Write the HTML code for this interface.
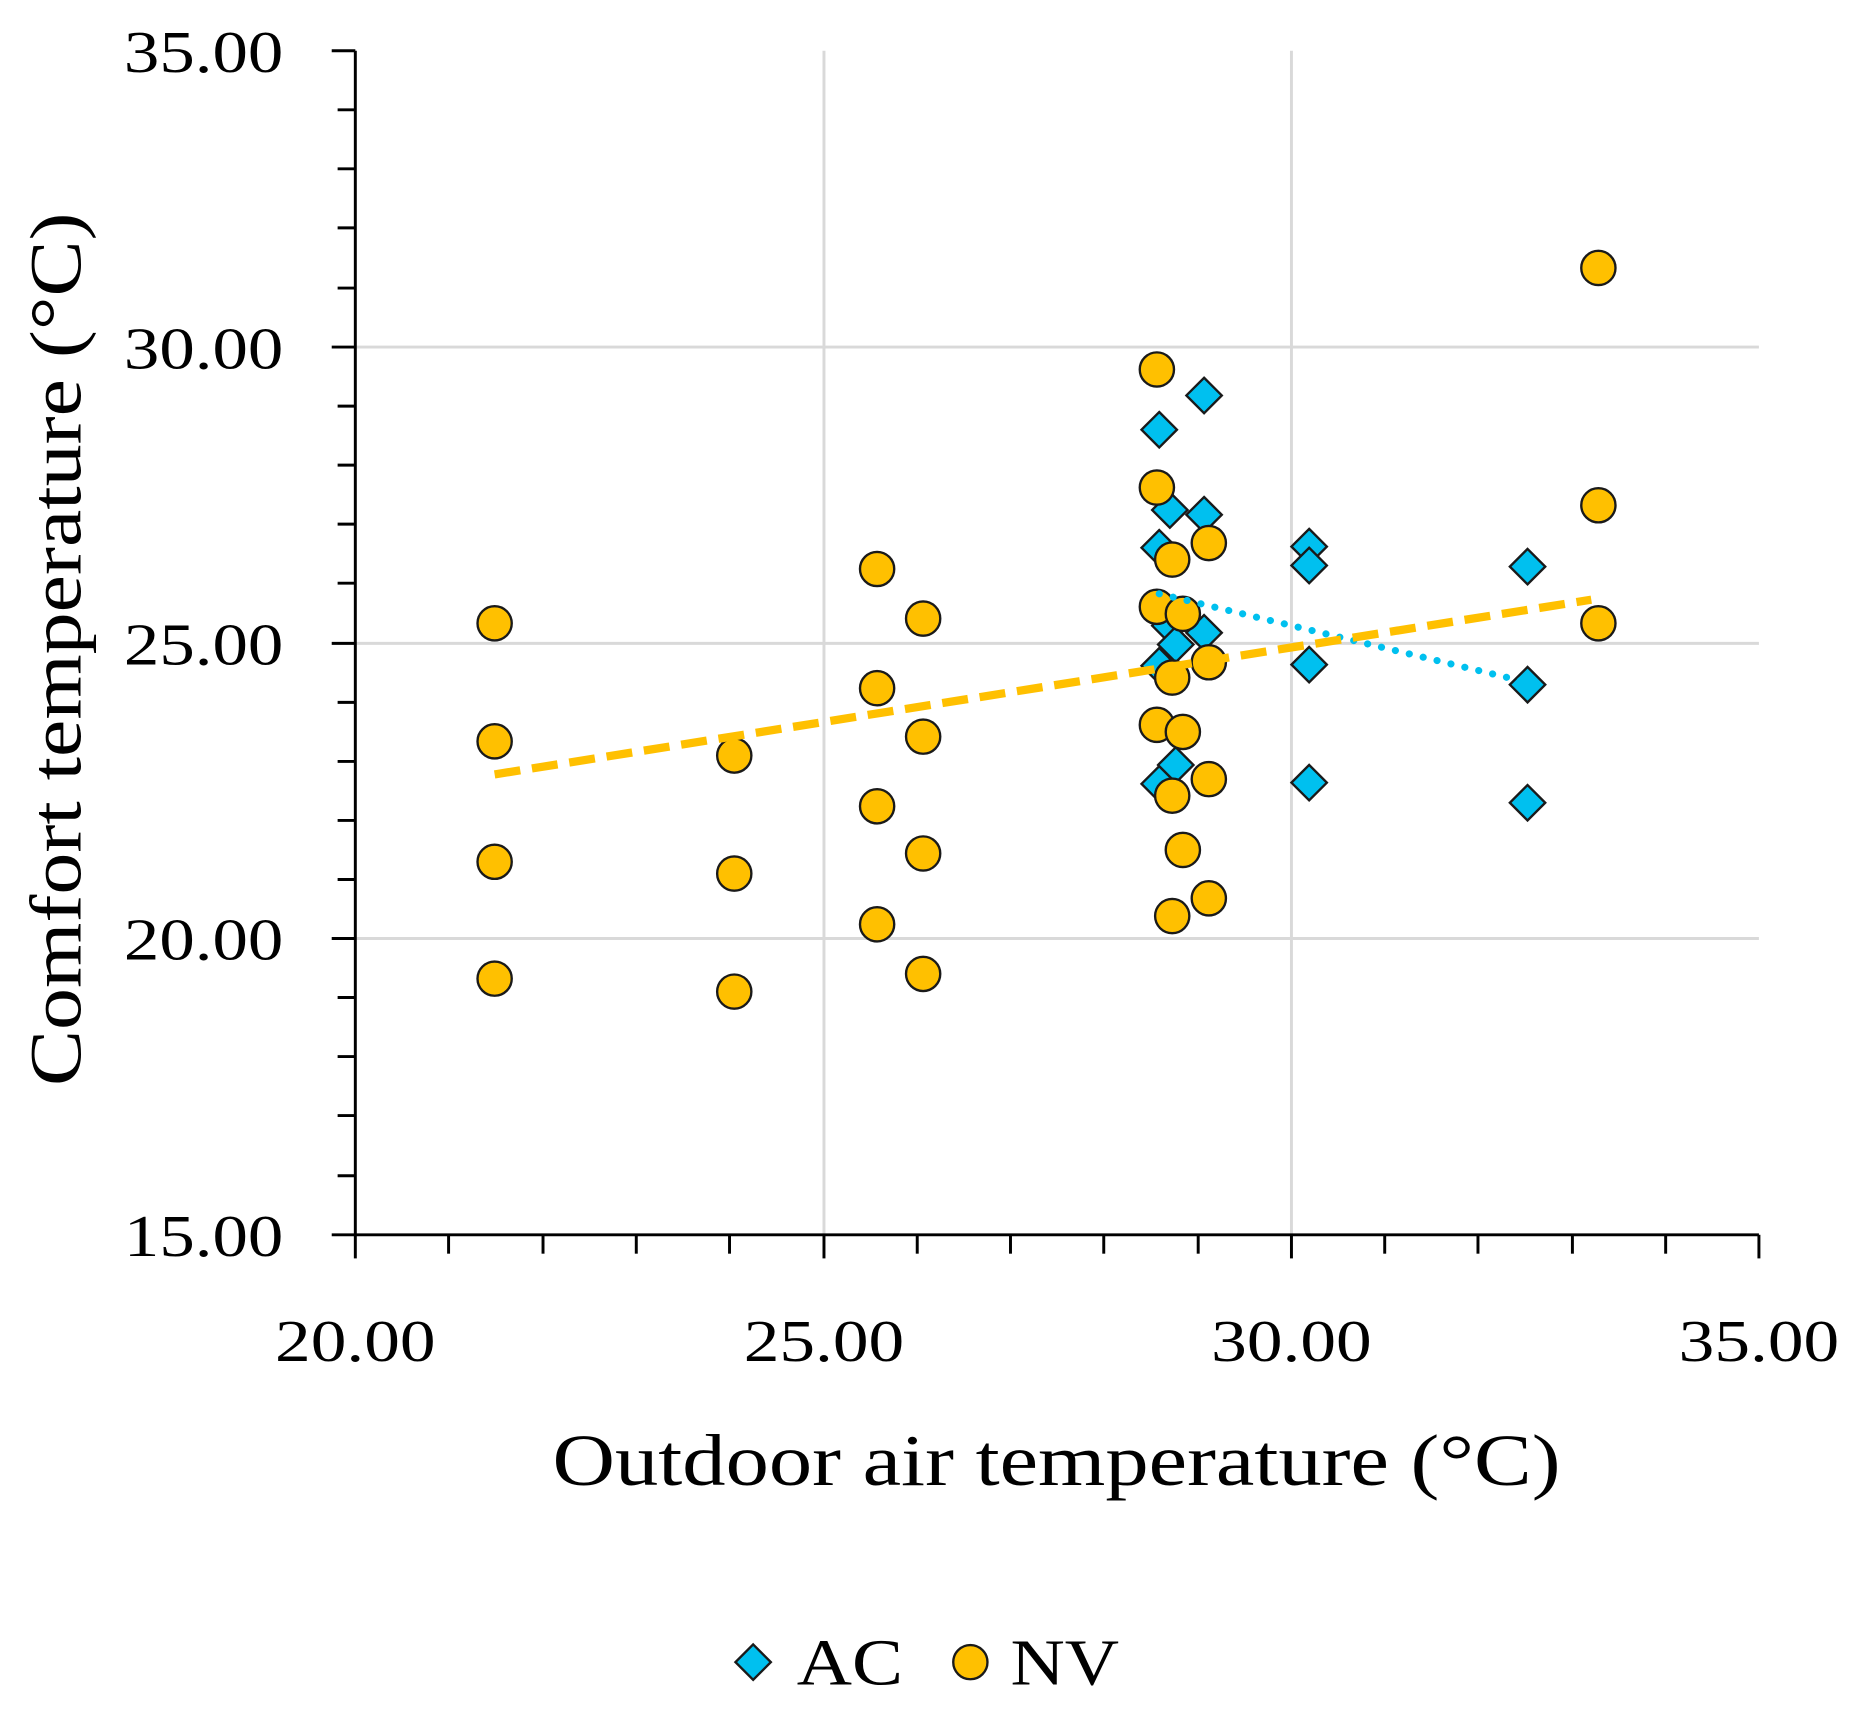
<!DOCTYPE html>
<html><head><style>html,body{margin:0;padding:0;background:#fff}svg{display:block}</style></head>
<body>
<svg width="1851" height="1709" viewBox="0 0 1568 1447.7" xmlns="http://www.w3.org/2000/svg" font-family="Liberation Serif, serif">
<rect width="1568" height="1448" fill="#fff"/>
<g stroke="#d9d9d9" stroke-width="2.5">
<line x1="698" y1="43" x2="698" y2="1046"/>
<line x1="1094" y1="43" x2="1094" y2="1046"/>
<line x1="301" y1="294" x2="1490" y2="294"/>
<line x1="301" y1="545" x2="1490" y2="545"/>
<line x1="301" y1="795" x2="1490" y2="795"/>
</g>
<g stroke="#000" stroke-width="2.5">
<line x1="301" y1="43" x2="301" y2="1047"/>
<line x1="300" y1="1046" x2="1490" y2="1046"/>
<line x1="281" y1="43" x2="301" y2="43"/><line x1="286" y1="93" x2="301" y2="93"/><line x1="286" y1="143" x2="301" y2="143"/><line x1="286" y1="193" x2="301" y2="193"/><line x1="286" y1="244" x2="301" y2="244"/>
<line x1="281" y1="294" x2="301" y2="294"/><line x1="286" y1="344" x2="301" y2="344"/><line x1="286" y1="394" x2="301" y2="394"/><line x1="286" y1="444" x2="301" y2="444"/><line x1="286" y1="494" x2="301" y2="494"/>
<line x1="281" y1="545" x2="301" y2="545"/><line x1="286" y1="595" x2="301" y2="595"/><line x1="286" y1="645" x2="301" y2="645"/><line x1="286" y1="695" x2="301" y2="695"/><line x1="286" y1="745" x2="301" y2="745"/>
<line x1="281" y1="795" x2="301" y2="795"/><line x1="286" y1="845" x2="301" y2="845"/><line x1="286" y1="895" x2="301" y2="895"/><line x1="286" y1="945" x2="301" y2="945"/><line x1="286" y1="996" x2="301" y2="996"/>
<line x1="281" y1="1046" x2="301" y2="1046"/>
<line x1="301" y1="1046" x2="301" y2="1066"/><line x1="380" y1="1046" x2="380" y2="1062"/><line x1="460" y1="1046" x2="460" y2="1062"/><line x1="539" y1="1046" x2="539" y2="1062"/><line x1="618" y1="1046" x2="618" y2="1062"/>
<line x1="698" y1="1046" x2="698" y2="1066"/><line x1="777" y1="1046" x2="777" y2="1062"/><line x1="856" y1="1046" x2="856" y2="1062"/><line x1="935" y1="1046" x2="935" y2="1062"/><line x1="1015" y1="1046" x2="1015" y2="1062"/>
<line x1="1094" y1="1046" x2="1094" y2="1066"/><line x1="1173" y1="1046" x2="1173" y2="1062"/><line x1="1252" y1="1046" x2="1252" y2="1062"/><line x1="1332" y1="1046" x2="1332" y2="1062"/><line x1="1411" y1="1046" x2="1411" y2="1062"/>
<line x1="1490" y1="1046" x2="1490" y2="1066"/>
</g>
<g font-size="50" fill="#000">
<text x="105" y="61" textLength="135" lengthAdjust="spacingAndGlyphs">35.00</text>
<text x="105" y="312" textLength="135" lengthAdjust="spacingAndGlyphs">30.00</text>
<text x="105" y="563" textLength="135" lengthAdjust="spacingAndGlyphs">25.00</text>
<text x="105" y="813" textLength="135" lengthAdjust="spacingAndGlyphs">20.00</text>
<text x="105" y="1064" textLength="135" lengthAdjust="spacingAndGlyphs">15.00</text>
<text x="233" y="1153" textLength="136" lengthAdjust="spacingAndGlyphs">20.00</text>
<text x="630" y="1153" textLength="136" lengthAdjust="spacingAndGlyphs">25.00</text>
<text x="1026" y="1153" textLength="136" lengthAdjust="spacingAndGlyphs">30.00</text>
<text x="1422" y="1153" textLength="136" lengthAdjust="spacingAndGlyphs">35.00</text>
</g>
<text x="468" y="1258" font-size="62" textLength="854" lengthAdjust="spacingAndGlyphs">Outdoor air temperature (°C)</text>
<text transform="translate(68,920) rotate(-90)" font-size="62" textLength="740" lengthAdjust="spacingAndGlyphs">Comfort temperature (°C)</text>
<g fill="#00c0ef" stroke="#1a1a1a" stroke-width="2">
<path d="M0,-15L15,0L0,15L-15,0Z" transform="translate(982,664)"/>
<path d="M0,-15L15,0L0,15L-15,0Z" transform="translate(982,564)"/>
<path d="M0,-15L15,0L0,15L-15,0Z" transform="translate(982,464)"/>
<path d="M0,-15L15,0L0,15L-15,0Z" transform="translate(982,364)"/>
<path d="M0,-15L15,0L0,15L-15,0Z" transform="translate(991,432)"/>
<path d="M0,-15L15,0L0,15L-15,0Z" transform="translate(991,530)"/>
<path d="M0,-15L15,0L0,15L-15,0Z" transform="translate(996,546)"/>
<path d="M0,-15L15,0L0,15L-15,0Z" transform="translate(996,648)"/>
<path d="M0,-15L15,0L0,15L-15,0Z" transform="translate(1020,335)"/>
<path d="M0,-15L15,0L0,15L-15,0Z" transform="translate(1020,436)"/>
<path d="M0,-15L15,0L0,15L-15,0Z" transform="translate(1020,536)"/>
<path d="M0,-15L15,0L0,15L-15,0Z" transform="translate(1109,463)"/>
<path d="M0,-15L15,0L0,15L-15,0Z" transform="translate(1109,479)"/>
<path d="M0,-15L15,0L0,15L-15,0Z" transform="translate(1109,563)"/>
<path d="M0,-15L15,0L0,15L-15,0Z" transform="translate(1109,663)"/>
<path d="M0,-15L15,0L0,15L-15,0Z" transform="translate(1294,480)"/>
<path d="M0,-15L15,0L0,15L-15,0Z" transform="translate(1294,580)"/>
<path d="M0,-15L15,0L0,15L-15,0Z" transform="translate(1294,680)"/>
</g>
<g fill="#ffc000" stroke="#1a1a1a" stroke-width="2">
<circle cx="419" cy="528" r="14.5"/><circle cx="419" cy="628" r="14.5"/><circle cx="419" cy="730" r="14.5"/><circle cx="419" cy="829" r="14.5"/>
<circle cx="622" cy="640" r="14.5"/><circle cx="622" cy="740" r="14.5"/><circle cx="622" cy="840" r="14.5"/>
<circle cx="743" cy="482" r="14.5"/><circle cx="743" cy="583" r="14.5"/><circle cx="743" cy="683" r="14.5"/><circle cx="743" cy="783" r="14.5"/>
<circle cx="782" cy="524" r="14.5"/><circle cx="782" cy="624" r="14.5"/><circle cx="782" cy="723" r="14.5"/><circle cx="782" cy="825" r="14.5"/>
<circle cx="980" cy="313" r="14.5"/><circle cx="980" cy="413" r="14.5"/><circle cx="980" cy="514" r="14.5"/><circle cx="980" cy="614" r="14.5"/>
<circle cx="993" cy="474" r="14.5"/><circle cx="993" cy="574" r="14.5"/><circle cx="993" cy="674" r="14.5"/><circle cx="993" cy="776" r="14.5"/>
<circle cx="1002" cy="520" r="14.5"/><circle cx="1002" cy="620" r="14.5"/><circle cx="1002" cy="720" r="14.5"/>
<circle cx="1024" cy="460" r="14.5"/><circle cx="1024" cy="561" r="14.5"/><circle cx="1024" cy="660" r="14.5"/><circle cx="1024" cy="761" r="14.5"/>
<circle cx="1354" cy="227" r="14.5"/><circle cx="1354" cy="428" r="14.5"/><circle cx="1354" cy="528" r="14.5"/>
</g>
<line x1="982" y1="503" x2="1294" y2="578" stroke="#00c0ef" stroke-width="6" stroke-linecap="round" stroke-dasharray="0.1 12"/>
<line x1="419" y1="656" x2="1348" y2="508" stroke="#ffc000" stroke-width="7" stroke-dasharray="22 10"/>
<path d="M0,-15L15,0L0,15L-15,0Z" transform="translate(638,1408)" fill="#00c0ef" stroke="#1a1a1a" stroke-width="2"/>
<text x="675" y="1427" font-size="56" textLength="90" lengthAdjust="spacingAndGlyphs">AC</text>
<circle cx="822" cy="1408" r="14.5" fill="#ffc000" stroke="#1a1a1a" stroke-width="2"/>
<text x="856" y="1427" font-size="56" textLength="92" lengthAdjust="spacingAndGlyphs">NV</text>
</svg>
</body></html>
